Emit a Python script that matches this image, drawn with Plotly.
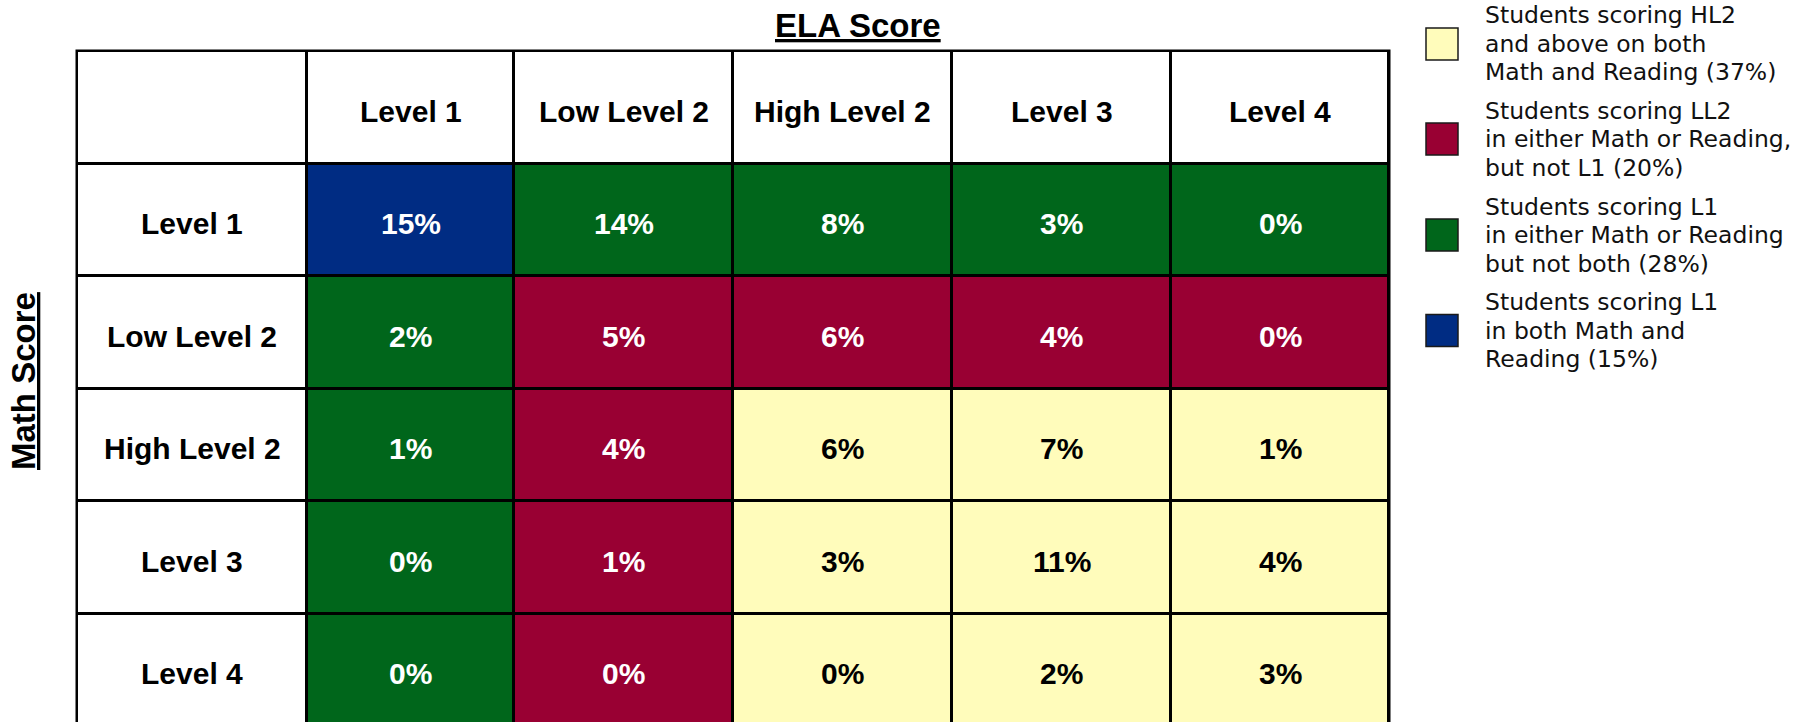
import plotly.graph_objects as go

# ---------------- data ----------------
ela_levels = ["Level 1", "Low Level 2", "High Level 2", "Level 3", "Level 4"]
math_levels = ["Level 1", "Low Level 2", "High Level 2", "Level 3", "Level 4"]
# rows = Math level, columns = ELA level (percent of students)
pct_math_l1 = [15, 14, 8, 3, 0]
pct_math_ll2 = [2, 5, 6, 4, 0]
pct_math_hl2 = [1, 4, 6, 7, 1]
pct_math_l3 = [0, 1, 3, 11, 4]
pct_math_l4 = [0, 0, 0, 2, 3]
values = [pct_math_l1, pct_math_ll2, pct_math_hl2, pct_math_l3, pct_math_l4]

legend_labels = [
    ["Students scoring HL2", "and above on both", "Math and Reading (37%)"],
    ["Students scoring LL2", "in either Math or Reading,", "but not L1 (20%)"],
    ["Students scoring L1", "in either Math or Reading", "but not both (28%)"],
    ["Students scoring L1", "in both Math and", "Reading (15%)"],
]
x_title = "ELA Score"
y_title = "Math Score"

# ---------------- style ----------------
W, H = 1808, 722
GROUP_COLORS = ["#FFFFFF", "#FFFCBB", "#990033", "#00661B", "#002C83"]  # header, HL2+, LL2, L1 either, L1 both
TEXT_COLORS = ["#000000", "#000000", "#FFFFFF", "#FFFFFF", "#FFFFFF"]
LEGEND_GROUPS = [1, 2, 3, 4]
TABLE_LEFT, TABLE_TOP = 77, 51
COL_W = [230, 207, 219, 219, 219, 218]
ROW_H = 112.5
LINE = 3
TEXT_SHIFT = -4
CELL_FONT = dict(family="Liberation Sans, Arial, sans-serif", size=30, weight="bold")
TITLE_FONT = dict(family="Liberation Sans, Arial, sans-serif", size=33, color="#000000",
                  weight="bold", lineposition="under")
LEGEND_FONT = dict(family="DejaVu Sans, Verdana, sans-serif", size=23.5, color="#111111")


def group_of(r, c):
    # r: math level index, c: ela level index (0 = Level 1, 1 = Low Level 2)
    if r == 0 and c == 0:
        return 4
    if r == 0 or c == 0:
        return 3
    if r == 1 or c == 1:
        return 2
    return 1


# build grid (header row / header column included)
n = len(ela_levels) + 1
z = [[0] * n for _ in range(n)]
for r in range(len(math_levels)):
    for c in range(len(ela_levels)):
        z[r + 1][c + 1] = group_of(r, c)

x_edges = [0]
for w in COL_W:
    x_edges.append(x_edges[-1] + w)
x_centers = [(x_edges[i] + x_edges[i + 1]) / 2 for i in range(n)]
y_rows = list(range(n))

ncol = len(GROUP_COLORS) - 1
colorscale = [[i / ncol, col] for i, col in enumerate(GROUP_COLORS)]

fig = go.Figure(go.Heatmap(
    z=z, x=x_edges, y=y_rows,
    zmin=0, zmax=ncol, colorscale=colorscale, showscale=False,
    xgap=LINE, ygap=LINE, hoverinfo="skip",
))

annotations = []
for c, lab in enumerate(ela_levels):
    annotations.append(dict(x=x_centers[c + 1], y=0, xref="x", yref="y", text=lab,
                            showarrow=False, yshift=TEXT_SHIFT,
                            font=dict(CELL_FONT, color="#000000")))
for r, lab in enumerate(math_levels):
    annotations.append(dict(x=x_centers[0], y=r + 1, xref="x", yref="y", text=lab,
                            showarrow=False, yshift=TEXT_SHIFT,
                            font=dict(CELL_FONT, color="#000000")))
for r, row in enumerate(values):
    for c, v in enumerate(row):
        g = z[r + 1][c + 1]
        annotations.append(dict(x=x_centers[c + 1], y=r + 1, xref="x", yref="y",
                                text=f"{v}%", showarrow=False, yshift=TEXT_SHIFT,
                                font=dict(CELL_FONT, color=TEXT_COLORS[g])))

# axis titles
annotations.append(dict(x=857.5 / W, y=1 - 25 / H, xref="paper", yref="paper", text=x_title,
                        showarrow=False, font=TITLE_FONT, xanchor="center", yanchor="middle"))
annotations.append(dict(x=24 / W, y=1 - 381 / H, xref="paper", yref="paper", text=y_title,
                        textangle=-90, showarrow=False, font=TITLE_FONT,
                        xanchor="center", yanchor="middle"))

# legend
shapes = []
box_centers = [44, 139, 235, 330.5]
for i, (g, lines) in enumerate(zip(LEGEND_GROUPS, legend_labels)):
    cy = box_centers[i]
    shapes.append(dict(type="rect", xref="paper", yref="paper",
                       x0=1426 / W, x1=1458 / W, y0=1 - (cy + 16) / H, y1=1 - (cy - 16) / H,
                       fillcolor=GROUP_COLORS[g], line=dict(color="#1a1a1a", width=1.5)))
    for j, t in enumerate(lines):
        ly = cy + (j - 1) * 28.5
        annotations.append(dict(x=1483 / W, y=1 - ly / H, xref="paper", yref="paper", text=t,
                                showarrow=False, font=LEGEND_FONT, xanchor="left",
                                yanchor="middle"))

total_w = x_edges[-1]
fig.update_layout(
    width=W, height=H,
    margin=dict(l=0, r=0, t=0, b=0),
    paper_bgcolor="#FFFFFF",
    plot_bgcolor="#000000",
    annotations=annotations,
    shapes=shapes,
    xaxis=dict(range=[-LINE / 2, total_w + LINE / 2],
               domain=[(TABLE_LEFT - LINE / 2) / W, (TABLE_LEFT + total_w + LINE / 2) / W],
               showgrid=False, zeroline=False, showticklabels=False, ticks="", fixedrange=True),
    yaxis=dict(range=[-0.5 + (H - TABLE_TOP) / ROW_H, -0.5 - (LINE / 2) / ROW_H],
               domain=[0, 1 - (TABLE_TOP - LINE / 2) / H],
               showgrid=False, zeroline=False, showticklabels=False, ticks="", fixedrange=True),
    showlegend=False,
)

fig.write_html(
    "out.html",
    config={"displayModeBar": False},
    post_script="document.body.style.margin='0';document.body.style.overflow='hidden';",
)
